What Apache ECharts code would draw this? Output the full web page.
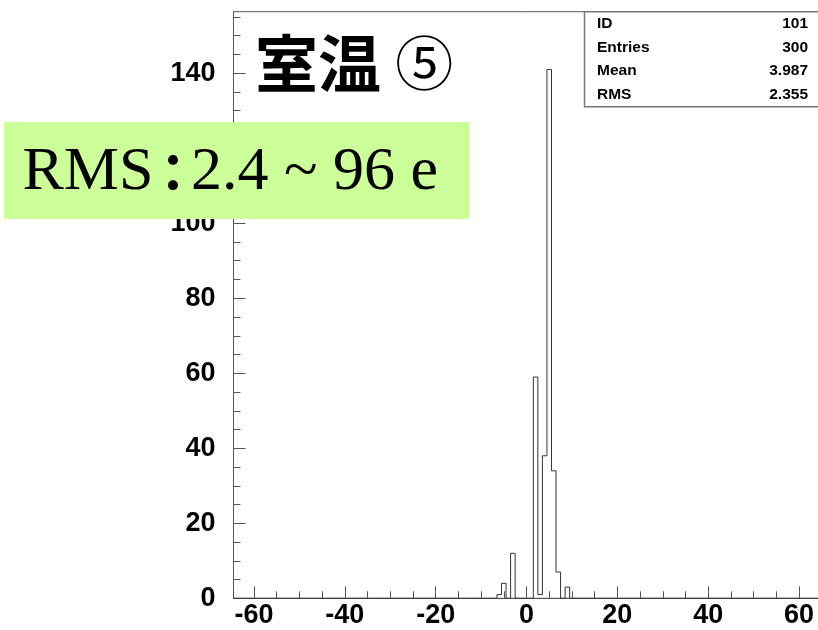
<!DOCTYPE html>
<html>
<head>
<meta charset="utf-8">
<style>
  html, body { margin: 0; padding: 0; background: #ffffff; }
  #chart { width: 818px; height: 630px; }
</style>
<script src="https://cdn.jsdelivr.net/npm/echarts@6/dist/echarts.min.js"></script>
</head>
<body>
<div id="chart"></div>
<script>
// Histogram 101: charge distribution, unit-wide bins centred on integers
const binCenters = [-6, -5, -3, 2, 3, 4, 5, 6, 7, 9];
const binCounts  = [1, 4, 12, 59, 1, 38, 141, 34, 7, 3];
const binWidth = 1;
const xRange = [-64.5, 64.5];
const yRange = [0, 156.4];

// Axis tick labels
const xMajorTicks = [-60, -40, -20, 0, 20, 40, 60];
const yMajorTicks = [0, 20, 40, 60, 80, 100, 120, 140];
const minorStep = 5;

// Statistics box contents
const statNames  = ['ID', 'Entries', 'Mean', 'RMS'];
const statValues = ['101', '300', '3.987', '2.355'];

// Annotations
const titleMain = '室温';
const titleMark = '⑤';
const noteHead = 'RMS';
const noteColon = '：';
const noteTail = '2.4 ~ 96 e';

// Step outline of the histogram over the full axis range
const stepData = [];
for (let k = 0; xRange[0] + k * binWidth < xRange[1]; k++) {
  const left = xRange[0] + k * binWidth;
  const idx = binCenters.indexOf(left + binWidth / 2);
  stepData.push([left, idx >= 0 ? binCounts[idx] : 0]);
}
stepData.push([xRange[1], 0]);

function minorTicks(lo, hi, majors) {
  const out = [];
  for (let v = Math.ceil(lo / minorStep) * minorStep; v <= hi; v += minorStep) {
    if (majors.indexOf(v) < 0) out.push(v);
  }
  return out;
}
const xMinorTicks = minorTicks(xRange[0], xRange[1], xMajorTicks);
const yMinorTicks = minorTicks(yRange[0], yRange[1], yMajorTicks);

const axisColor = '#555555';
const labelFont = { fontFamily: 'Liberation Sans', fontWeight: 'bold', fontSize: 27, color: '#000000' };

const chart = echarts.init(document.getElementById('chart'), null, { renderer: 'canvas' });

// Statistics box: frame plus one row per entry
const statTop = 11.7, statHeight = 95, statLeft = 584.5;
const statGraphics = [{
  type: 'rect', z: 100,
  shape: { x: statLeft, y: statTop, width: 240, height: statHeight },
  style: { fill: '#ffffff', stroke: '#777777', lineWidth: 1.5 }
}];
statNames.forEach((name, i) => {
  const cy = statTop + statHeight * (i + 0.5) / statNames.length;
  const font = { fontFamily: 'Liberation Sans', fontWeight: 'bold', fontSize: 15.5, fill: '#000000', verticalAlign: 'middle' };
  statGraphics.push({ type: 'text', z: 101, x: 597, y: cy, style: Object.assign({ text: name, align: 'left' }, font) });
  statGraphics.push({ type: 'text', z: 101, x: 808, y: cy, style: Object.assign({ text: statValues[i], align: 'right' }, font) });
});

const option = {
  animation: false,
  backgroundColor: '#ffffff',
  grid: {
    left: 233.5, right: -1.5, top: 11.7, bottom: 31.7,
    show: true, borderColor: axisColor, borderWidth: 1, backgroundColor: 'transparent',
    containLabel: false, outerBoundsMode: 'none'
  },
  xAxis: [{
    type: 'value', position: 'bottom', min: xRange[0], max: xRange[1],
    axisLine: { show: true, onZero: false, lineStyle: { color: axisColor, width: 1 } },
    axisTick: { show: true, inside: true, length: 12, customValues: xMajorTicks, lineStyle: { color: axisColor } },
    axisLabel: Object.assign({ show: true, margin: 4, customValues: xMajorTicks }, labelFont),
    splitLine: { show: false }
  }, {
    type: 'value', position: 'bottom', min: xRange[0], max: xRange[1],
    axisLine: { show: false, onZero: false },
    axisTick: { show: true, inside: true, length: 7, customValues: xMinorTicks, lineStyle: { color: axisColor } },
    axisLabel: { show: false },
    splitLine: { show: false }
  }],
  yAxis: [{
    type: 'value', position: 'left', min: yRange[0], max: yRange[1],
    axisLine: { show: true, onZero: false, lineStyle: { color: axisColor, width: 1 } },
    axisTick: { show: true, inside: true, length: 12, customValues: yMajorTicks, lineStyle: { color: axisColor } },
    axisLabel: Object.assign({ show: true, margin: 18, customValues: yMajorTicks }, labelFont),
    splitLine: { show: false }
  }, {
    type: 'value', position: 'left', offset: 0, min: yRange[0], max: yRange[1],
    axisLine: { show: false, onZero: false },
    axisTick: { show: true, inside: true, length: 7, customValues: yMinorTicks, lineStyle: { color: axisColor } },
    axisLabel: { show: false },
    splitLine: { show: false }
  }],
  series: [{
    type: 'line',
    xAxisIndex: 0, yAxisIndex: 0,
    step: 'end',
    data: stepData,
    symbol: 'none',
    clip: true,
    lineStyle: { color: '#333333', width: 1 },
    z: 5
  }],
  graphic: statGraphics.concat([
    {
      type: 'text', z: 100, x: 255, y: 63,
      style: {
        text: '{a|' + titleMain + '} {b|' + titleMark + '}',
        fontFamily: 'Noto Sans CJK JP', fontSize: 63, fontWeight: 'bold', fill: '#000000',
        verticalAlign: 'middle', align: 'left',
        rich: {
          a: { fontFamily: 'Noto Sans CJK JP', fontSize: 63, fontWeight: 'bold', fill: '#000000' },
          b: { fontFamily: 'Noto Sans CJK JP', fontSize: 58, fontWeight: 'normal', fill: '#000000' }
        }
      }
    },
    {
      type: 'rect', z: 100,
      shape: { x: 4, y: 122, width: 465, height: 97 },
      style: { fill: '#ccff99', stroke: 'none' }
    },
    {
      type: 'text', z: 101, x: 22.5, y: 172.5,
      style: { text: noteHead, fontFamily: 'Liberation Serif', fontSize: 62, fill: '#000000', align: 'left', verticalAlign: 'middle' }
    },
    {
      type: 'text', z: 101, x: 173, y: 172.5,
      style: { text: noteColon, fontFamily: 'Noto Sans CJK JP', fontWeight: 'bold', fontSize: 52, fill: '#000000', align: 'center', verticalAlign: 'middle' }
    },
    {
      type: 'text', z: 101, x: 191, y: 172.5,
      style: { text: noteTail, fontFamily: 'Liberation Serif', fontSize: 62, fill: '#000000', align: 'left', verticalAlign: 'middle' }
    }
  ])
};

chart.setOption(option);
</script>
</body>
</html>
